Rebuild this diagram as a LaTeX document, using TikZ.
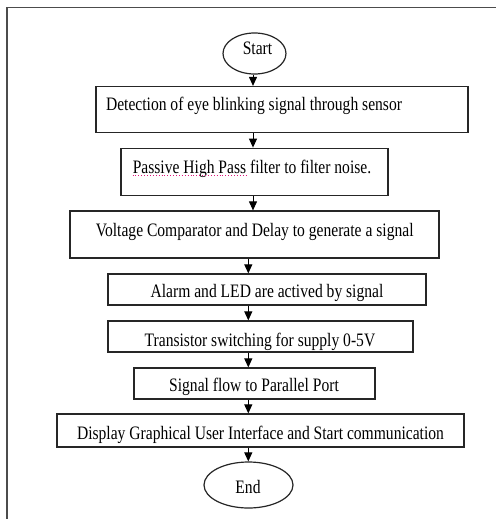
\documentclass[tikz,border=0pt]{standalone}
\usepackage{graphicx}
\usepackage{fontspec}
\setmainfont{Liberation Serif}
\usetikzlibrary{shapes.geometric,arrows.meta,calc}
\newcommand{\narrowtxt}[1]{\scalebox{0.82}[1]{#1}}
\begin{document}
\begin{tikzpicture}[x=1pt,y=-1pt,
  frame/.style={draw=black!70,line width=1.5pt},
  box/.style={draw=black!85,line width=1.2pt,rectangle,inner sep=0pt},
  oval/.style={draw=black!85,line width=1.2pt,ellipse,inner sep=0pt},
  txt/.style={inner sep=0pt,anchor=base,font=\fontsize{19}{22}\selectfont},
  arr/.style={draw=black,line width=1pt,-{Triangle[length=9pt,width=8pt]}},
  spell/.style={draw=magenta!70!purple,line width=0.9pt,dotted}]
\useasboundingbox (0,0) rectangle (496,519);
\fill[white] (0,0) rectangle (496,519);
% frame (open at right and bottom)
\coordinate (ftl) at (7,7.5);
\coordinate (fbl) at (7,519);
\coordinate (ftr) at (496,7.5);
\draw[frame] (fbl) -- (ftl) -- (ftr);
% shapes
\node[oval,minimum width=63pt,minimum height=41pt] (start) at (254.5,53.5) {};
\node[box,minimum width=372pt,minimum height=46pt] (b1) at (282,109.5) {};
\node[box,minimum width=267pt,minimum height=47pt] (b2) at (254.5,171.7) {};
\node[box,minimum width=369pt,minimum height=47pt] (b3) at (254.5,234.5) {};
\node[box,minimum width=318pt,minimum height=31pt] (b4) at (267,289.5) {};
\node[box,minimum width=305pt,minimum height=31pt] (b5) at (260.5,336.5) {};
\node[box,minimum width=241pt,minimum height=31pt] (b6) at (254.5,383.5) {};
\node[box,minimum width=407pt,minimum height=33pt] (b7) at (260.5,430.5) {};
\node[oval,minimum width=89pt,minimum height=46pt] (end) at (248.5,485) {};
% texts
\node[txt] (ts) at (257.5,55) {\narrowtxt{Start}};
\node[txt] (t1) at (254,110) {\narrowtxt{Detection of eye blinking signal through sensor}};
\node[txt] (t2) at (252,173) {\narrowtxt{Passive High Pass filter to filter noise.}};
\node[txt] (t3) at (254.7,236.7) {\narrowtxt{Voltage Comparator and Delay to generate a signal}};
\node[txt] (t4) at (267,297.7) {\narrowtxt{Alarm and LED are actived by signal}};
\node[txt] (t5) at (260,346) {\narrowtxt{Transistor switching for supply 0-5V}};
\node[txt] (t6) at (254,391.7) {\narrowtxt{Signal flow to Parallel Port}};
\node[txt] (t7) at (260.5,439) {\narrowtxt{Display Graphical User Interface and Start communication}};
\node[txt] (te) at (248,493.3) {\narrowtxt{End}};
% spell-check underline
\coordinate (su) at (248,0);
\draw[spell] ($(t2.base west)+(0,2.5)$) -- ($(t2.base west -| su)+(0,2.5)$);
% connectors
\coordinate (a1) at (253,0);
\coordinate (a2) at (248.3,0);
\draw[arr] (start.south -| a1) -- (b1.north -| a1);
\draw[arr] (b1.south -| a1) -- (b2.north -| a1);
\draw[arr] (b2.south -| a1) -- (b3.north -| a1);
\draw[arr] (b3.south -| a2) -- (b4.north -| a2);
\draw[arr] (b4.south -| a2) -- (b5.north -| a2);
\draw[arr] (b5.south -| a2) -- (b6.north -| a2);
\draw[arr] (b6.south -| a2) -- (b7.north -| a2);
\draw[arr] (b7.south -| a2) -- (end.north -| a2);
\end{tikzpicture}
\end{document}
